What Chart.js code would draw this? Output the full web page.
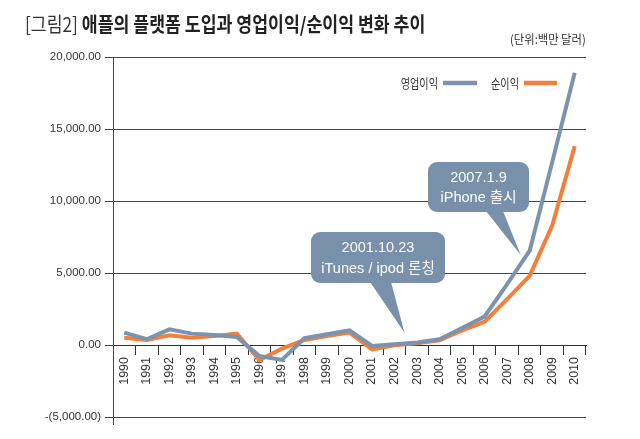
<!DOCTYPE html>
<html>
<head>
<meta charset="utf-8">
<script src="https://cdn.jsdelivr.net/npm/chart.js@4"></script>
<style>
  body { margin: 0; background: #fff; }
  #wrap { position: relative; width: 640px; height: 439px; overflow: hidden; }
  #chart { position: absolute; left: 0; top: 0; }
  .txt { position: absolute; white-space: nowrap; transform-origin: left center; font-family: "Noto Sans CJK KR", sans-serif; }
  #title { left: 25px; top: 13px; font-size: 20px; line-height: 22px; color: #222; font-weight: 700; }
  #title .fig { font-weight: 400; color: #333; }
  #unit { left: 510px; top: 31px; font-size: 12.5px; line-height: 15px; color: #333; }
</style>
</head>
<body>
<div id="wrap">
  <canvas id="chart" width="640" height="439"></canvas>
  <div class="txt" id="title" data-w="400"><span class="fig">[그림2]</span> 애플의 플랫폼 도입과 영업이익/순이익 변화 추이</div>
  <div class="txt" id="unit" data-w="76">(단위:백만 달러)</div>
</div>
<script>
// 데이터 (단위: 백만 달러)
const years = ["1990","1991","1992","1993","1994","1995","1996","1997","1998","1999","2000",
               "2001","2002","2003","2004","2005","2006","2007","2008","2009","2010"];
const operatingIncome = [860, 400, 1090, 790, 700, 560, -770, -1040, 470, 740, 1020,
                         -70, 50, 170, 400, 1180, 1980, 4230, 6550, 12700, 18900];
const netIncome = [510, 350, 670, 510, 630, 790, -1040, -250, 350, 630, 860,
                   -300, -20, 120, 330, 1020, 1620, 3180, 4800, 8290, 13810];
const seriesNames = ["영업이익", "순이익"];
const yTicks = [-5000, 0, 5000, 10000, 15000, 20000];
const notes = [
  { lines: ["2001.10.23", "iTunes / ipod 론칭"], at: 12, value: 850 },
  { lines: ["2007.1.9", "iPhone 출시"], at: 18, value: 6250 }
];

const blue = "#7b93ad";
const orange = "#f47f3c";
const bubbleColor = "#7990aa";
const latin = "'Liberation Sans', 'Noto Sans CJK KR', sans-serif";

// 제목 폭 맞추기
document.querySelectorAll(".txt").forEach(el => {
  const w = parseFloat(el.dataset.w);
  el.style.transform = `scaleX(${w / el.scrollWidth})`;
});

function fmt(v) {
  const s = Math.abs(v).toLocaleString("en-US", { minimumFractionDigits: 2, maximumFractionDigits: 2 });
  return v < 0 ? "-(" + s + ")" : s;
}

function squeezeText(ctx, txt, x, y, sx, align) {
  ctx.save();
  ctx.translate(x, y);
  ctx.scale(sx, 1);
  ctx.textAlign = align;
  ctx.fillText(txt, 0, 0);
  ctx.restore();
}

// 범례, 말풍선, y축 연장선
const extras = {
  id: "extras",
  afterDatasetsDraw(chart) {
    const ctx = chart.ctx;
    const area = chart.chartArea;
    const xs = chart.scales.x, ys = chart.scales.y;
    ctx.save();

    ctx.strokeStyle = "#444";
    ctx.lineWidth = 1;
    ctx.beginPath();
    ctx.moveTo(area.left + 0.5, area.bottom);
    ctx.lineTo(area.left + 0.5, area.bottom + 8);
    ctx.stroke();

    // legend: text then swatch
    ctx.font = "13px 'Noto Sans CJK KR', sans-serif";
    ctx.fillStyle = "#333";
    ctx.textBaseline = "middle";
    squeezeText(ctx, seriesNames[0], 438, 83, 0.78, "right");
    squeezeText(ctx, seriesNames[1], 519, 83, 0.78, "right");
    ctx.lineWidth = 4.5;
    ctx.strokeStyle = blue;
    ctx.beginPath(); ctx.moveTo(443, 83); ctx.lineTo(477, 83); ctx.stroke();
    ctx.strokeStyle = orange;
    ctx.beginPath(); ctx.moveTo(524, 83); ctx.lineTo(557, 83); ctx.stroke();

    // callouts
    const boxes = [
      { x: 311, y: 232, w: 134, h: 51, base: [370, 391], tipDx: 10 },
      { x: 428, y: 162, w: 101, h: 50, base: [486, 503], tipDx: -9 }
    ];
    notes.forEach((n, i) => {
      const b = boxes[i];
      const tipX = xs.getPixelForValue(n.at) + b.tipDx;
      const tipY = ys.getPixelForValue(n.value);
      ctx.fillStyle = bubbleColor;
      ctx.beginPath();
      ctx.roundRect(b.x, b.y, b.w, b.h, 9);
      ctx.fill();
      ctx.beginPath();
      ctx.moveTo(b.base[0], b.y + b.h - 1);
      ctx.lineTo(tipX, tipY);
      ctx.lineTo(b.base[1], b.y + b.h - 1);
      ctx.closePath();
      ctx.fill();
      ctx.fillStyle = "#fff";
      ctx.font = "15px " + latin;
      const cx = b.x + b.w / 2;
      squeezeText(ctx, n.lines[0], cx, b.y + b.h / 2 - 9.5, 0.97, "center");
      squeezeText(ctx, n.lines[1], cx, b.y + b.h / 2 + 11, 0.97, "center");
    });
    ctx.restore();
  }
};

new Chart(document.getElementById("chart"), {
  type: "line",
  data: {
    labels: years,
    datasets: [
      { label: seriesNames[0], data: operatingIncome, borderColor: blue, borderWidth: 4, pointRadius: 0, tension: 0 },
      { label: seriesNames[1], data: netIncome, borderColor: orange, borderWidth: 4, pointRadius: 0, tension: 0 }
    ]
  },
  options: {
    responsive: false,
    animation: false,
    layout: { padding: { top: 57, right: 54, bottom: 22, left: 0 } },
    plugins: { legend: { display: false }, tooltip: { enabled: false } },
    scales: {
      x: {
        position: { y: 0 },
        offset: true,
        grid: { offset: true, drawOnChartArea: false, drawTicks: true, tickLength: 9, color: "#333" },
        border: { color: "#333" },
        ticks: { minRotation: 90, maxRotation: 90, padding: 3, color: "#333", font: { family: latin, size: 12.5 } }
      },
      y: {
        min: yTicks[0],
        max: yTicks[yTicks.length - 1],
        afterBuildTicks: s => { s.ticks = yTicks.map(v => ({ value: v })); },
        afterFit: s => { s.width = 113; },
        grid: { color: "#444", tickLength: 8 },
        border: { color: "#444" },
        ticks: { padding: 4, color: "#333", font: { family: latin, size: 11.5 }, callback: v => fmt(v) }
      }
    }
  },
  plugins: [extras]
});
</script>
</body>
</html>
